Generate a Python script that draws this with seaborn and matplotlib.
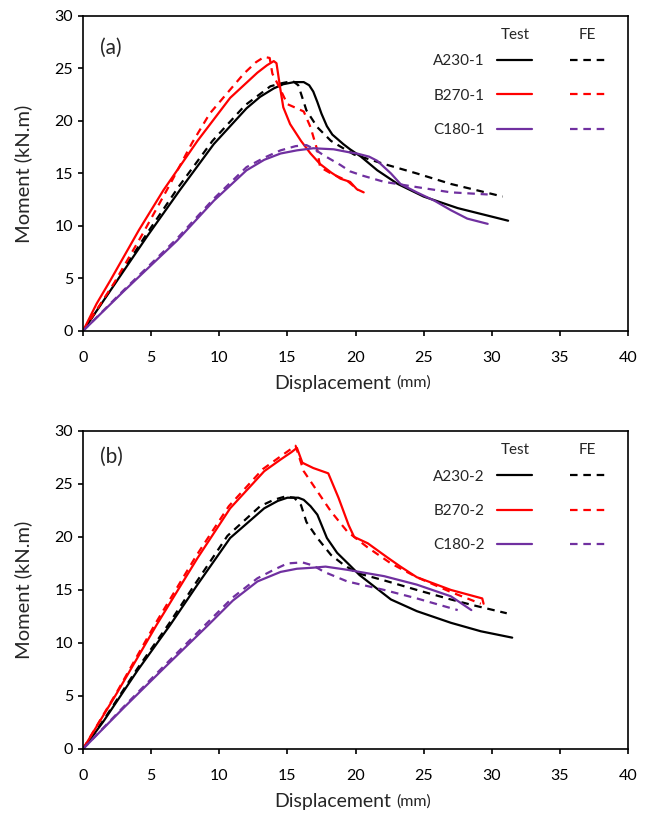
import seaborn as sns
import pandas as pd
import numpy as np
import matplotlib.pyplot as plt
from matplotlib.lines import Line2D

# ---- panel (a) ----
a230_1_test_x = [0, 2.4, 4.7, 7.1, 9.6, 12.0, 13.0, 14.0, 14.7, 15.5, 16.2, 16.6, 16.9, 17.2, 17.5, 17.9, 18.3, 19.1, 19.6, 20.4, 21.6, 23.1, 25.0, 27.5, 31.2]
a230_1_test_y = [0, 4.6, 9.0, 13.4, 17.8, 21.2, 22.3, 23.1, 23.5, 23.7, 23.7, 23.4, 22.8, 21.8, 20.7, 19.5, 18.7, 17.8, 17.3, 16.6, 15.3, 14.0, 12.8, 11.7, 10.5]
a230_1_fe_x = [0, 2.4, 4.6, 7.0, 9.5, 11.9, 13.75, 14.6, 15.4, 15.8, 16.0, 16.4, 17.2, 18.2, 19.1, 19.9, 22.1, 24.5, 27.0, 30.8]
a230_1_fe_y = [0, 4.7, 9.1, 13.7, 18.1, 21.5, 23.3, 23.6, 23.8, 23.4, 22.6, 21.0, 19.4, 18.1, 17.4, 16.8, 15.9, 15.0, 14.0, 12.8]

b270_1_test_x = [0, 1.0, 2.0, 4.1, 5.9, 8.4, 10.8, 12.8, 13.5, 14.0, 14.2, 14.5, 14.7, 15.2, 16.0, 16.7, 17.4, 18.2, 18.9, 19.6, 20.1, 20.6]
b270_1_test_y = [0, 2.6, 4.8, 9.6, 13.4, 18.1, 22.2, 24.6, 25.3, 25.7, 25.5, 22.9, 21.3, 19.7, 18.1, 16.9, 15.9, 15.1, 14.5, 14.2, 13.5, 13.2]
b270_1_fe_x = [0, 1.2, 2.3, 4.4, 6.4, 8.0, 9.3, 11.8, 12.7, 13.3, 13.7, 13.9, 14.3, 15.0, 15.7, 16.2, 16.7, 17.2, 17.4, 18.2, 19.4, 20.2]
b270_1_fe_y = [0, 2.4, 4.6, 9.3, 14.0, 17.9, 20.7, 24.5, 25.6, 26.1, 26.0, 24.5, 23.5, 21.6, 21.2, 20.9, 19.4, 17.2, 15.6, 15.0, 14.3, 13.4]

c180_1_test_x = [0, 3.0, 6.9, 9.6, 12.0, 13.3, 14.5, 15.7, 16.9, 18.4, 19.6, 20.1, 21.0, 21.6, 22.6, 23.3, 24.5, 25.8, 27.0, 28.2, 29.7]
c180_1_test_y = [0, 3.8, 8.6, 12.4, 15.3, 16.3, 16.9, 17.2, 17.4, 17.3, 17.0, 16.9, 16.6, 16.2, 15.0, 14.0, 13.2, 12.4, 11.5, 10.7, 10.2]
c180_1_fe_x = [0, 3.0, 6.9, 9.6, 12.0, 13.3, 14.5, 15.6, 16.4, 17.0, 17.7, 18.9, 19.6, 20.5, 22.1, 24.5, 27.0, 29.7]
c180_1_fe_y = [0, 3.9, 8.8, 12.6, 15.6, 16.5, 17.2, 17.6, 17.7, 17.3, 16.7, 15.8, 15.2, 14.8, 14.2, 13.7, 13.2, 13.0]

# ---- panel (b) ----
a230_2_test_x = [0, 1.5, 4.0, 6.4, 8.4, 10.8, 13.3, 14.3, 15.0, 15.8, 16.2, 16.7, 17.2, 17.9, 18.65, 19.6, 20.3, 21.4, 22.6, 24.5, 27.0, 29.2, 31.5]
a230_2_test_y = [0, 2.6, 7.4, 11.7, 15.5, 19.9, 22.7, 23.4, 23.7, 23.7, 23.5, 22.9, 22.1, 19.9, 18.5, 17.3, 16.4, 15.3, 14.1, 13.0, 11.9, 11.1, 10.5]
a230_2_fe_x = [0, 1.5, 4.0, 6.3, 8.3, 10.6, 13.0, 14.0, 14.8, 15.5, 16.0, 16.4, 17.2, 18.2, 19.1, 20.1, 22.1, 24.5, 27.0, 28.5, 31.1]
a230_2_fe_y = [0, 2.7, 7.6, 11.8, 15.7, 20.1, 22.9, 23.5, 23.8, 23.7, 23.0, 21.4, 19.9, 18.3, 17.4, 16.6, 15.9, 15.0, 14.1, 13.6, 12.8]

b270_2_test_x = [0, 2.5, 5.4, 8.4, 10.8, 13.3, 14.5, 15.3, 15.7, 16.1, 16.9, 18.0, 18.75, 19.5, 19.9, 20.9, 22.3, 23.3, 24.5, 27.0, 29.3, 29.4]
b270_2_test_y = [0, 5.3, 11.7, 18.0, 22.7, 26.2, 27.3, 28.0, 28.4, 27.0, 26.5, 26.0, 23.7, 21.1, 20.0, 19.4, 18.1, 17.2, 16.2, 15.0, 14.2, 13.7]
b270_2_fe_x = [0, 2.5, 5.3, 8.3, 10.7, 13.2, 14.5, 15.6, 16.2, 17.2, 18.2, 19.4, 20.9, 22.6, 24.5, 27.0, 29.2]
b270_2_fe_y = [0, 5.4, 11.8, 18.2, 22.9, 26.4, 27.6, 28.6, 26.2, 24.3, 22.4, 20.5, 19.0, 17.5, 16.2, 14.8, 13.7]

c180_2_test_x = [0, 3.0, 6.0, 9.2, 11.0, 12.8, 14.5, 15.7, 16.9, 17.8, 19.4, 22.1, 24.5, 27.0, 28.5]
c180_2_test_y = [0, 3.9, 7.7, 11.7, 14.0, 15.8, 16.7, 17.0, 17.1, 17.2, 16.9, 16.3, 15.5, 14.4, 13.1]
c180_2_fe_x = [0, 3.0, 6.0, 9.2, 11.0, 12.8, 14.0, 15.0, 16.1, 16.9, 17.7, 19.4, 22.1, 24.5, 27.5]
c180_2_fe_y = [0, 4.0, 7.9, 12.0, 14.3, 16.1, 16.9, 17.5, 17.6, 17.3, 16.7, 15.8, 15.0, 14.2, 13.1]

specimens_a = ["A230-1", "B270-1", "C180-1"]
specimens_b = ["A230-2", "B270-2", "C180-2"]
colors = ["black", "#ff0000", "#7030a0"]


def make_frame(names, curves):
    parts = []
    for name, (tx, ty, fx, fy) in zip(names, curves):
        parts.append(pd.DataFrame({"disp": tx, "moment": ty, "specimen": name, "source": "Test"}))
        parts.append(pd.DataFrame({"disp": fx, "moment": fy, "specimen": name, "source": "FE"}))
    return pd.concat(parts, ignore_index=True)


df_a = make_frame(specimens_a, [
    (a230_1_test_x, a230_1_test_y, a230_1_fe_x, a230_1_fe_y),
    (b270_1_test_x, b270_1_test_y, b270_1_fe_x, b270_1_fe_y),
    (c180_1_test_x, c180_1_test_y, c180_1_fe_x, c180_1_fe_y),
])
df_b = make_frame(specimens_b, [
    (a230_2_test_x, a230_2_test_y, a230_2_fe_x, a230_2_fe_y),
    (b270_2_test_x, b270_2_test_y, b270_2_fe_x, b270_2_fe_y),
    (c180_2_test_x, c180_2_test_y, c180_2_fe_x, c180_2_fe_y),
])

sns.set_theme(style="ticks")
plt.rcParams['font.family'] = ['Lato', 'DejaVu Sans']

fig = plt.figure(figsize=(6.51, 8.18), dpi=100)
ax_a = fig.add_axes([0.1275, 0.5954, 0.8372, 0.3851])
ax_b = fig.add_axes([0.1275, 0.0844, 0.8372, 0.3888])

dash = (3.4, 2.6)
lw = 1.6

panels = [(ax_a, df_a, specimens_a, "(a)", 0.9), (ax_b, df_b, specimens_b, "(b)", 0.917)]
for ax, df, names, tag, tag_y in panels:
    sns.lineplot(data=df, x="disp", y="moment", hue="specimen", style="source",
                 palette=dict(zip(names, colors)), dashes={"Test": "", "FE": dash},
                 sort=False, estimator=None, linewidth=lw, legend=False, ax=ax)

    ax.set_xlim(0, 40)
    ax.set_ylim(0, 30)
    ax.set_xticks(np.arange(0, 41, 5))
    ax.set_yticks(np.arange(0, 31, 5))
    ax.tick_params(direction="out", length=3.6, width=1.2, labelsize=11.5, colors="black")
    ax.tick_params(axis="x", pad=10.5)
    ax.tick_params(axis="y", pad=3.5)
    for sp in ax.spines.values():
        sp.set_visible(True)
        sp.set_color("black")
        sp.set_linewidth(1.2)

    ax.set_xlabel("Displacement", fontsize=14)
    ax.xaxis.set_label_coords(0.459, -0.14)
    ax.annotate("(mm)", xy=(1, 0), xycoords=ax.xaxis.label, xytext=(3, 1.5),
                textcoords="offset points", ha="left", va="bottom", fontsize=11.5)
    ax.set_ylabel("Moment (kN.m)", fontsize=14.5)
    ax.yaxis.set_label_coords(-0.093, 0.5)

    ax.text(0.031, tag_y, tag, transform=ax.transAxes, fontsize=15, va="center", ha="left")

    # legend: Test (solid) column and FE (dashed) column
    handles = [Line2D([], [], color=c, lw=lw) for c in colors]
    handles += [Line2D([], [], color=c, lw=lw, dashes=dash) for c in colors]
    ax.legend(handles, names + ["", "", ""], ncol=2, markerfirst=False, frameon=False,
              loc="upper right", bbox_to_anchor=(0.958, 0.878), borderaxespad=0, borderpad=0,
              fontsize=11, handlelength=2.3, handletextpad=0.8, columnspacing=1.7,
              labelspacing=1.33)
    ax.text(0.793, 0.94, "Test", transform=ax.transAxes, fontsize=11, ha="center", va="center")
    ax.text(0.925, 0.94, "FE", transform=ax.transAxes, fontsize=11, ha="center", va="center")

fig.savefig("out.png", dpi=100)
